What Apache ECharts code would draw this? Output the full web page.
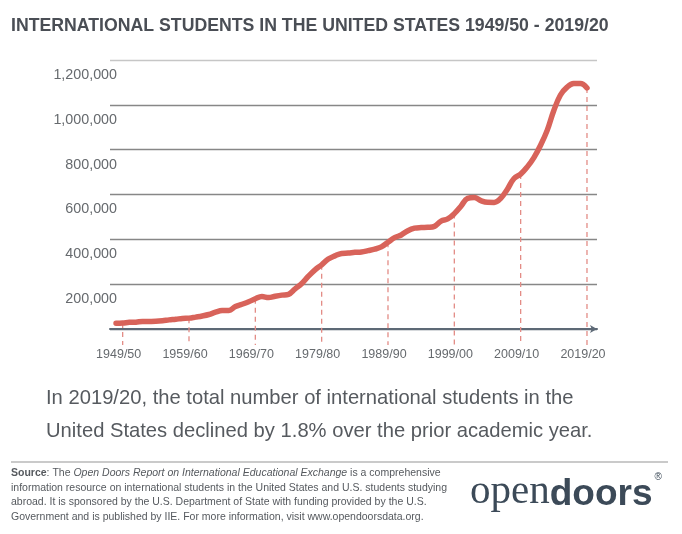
<!DOCTYPE html>
<html>
<head>
<meta charset="utf-8">
<script src="https://cdn.jsdelivr.net/npm/echarts@6/dist/echarts.min.js"></script>
<style>
html,body{margin:0;padding:0;background:#fff;}
#chart{width:682px;height:534px;}
</style>
</head>
<body>
<div id="chart"></div>
<script>
// Academic years are keyed by their starting year (1948 = 1948/49)
const years = [1948,1949,1950,1951,1952,1953,1954,1955,1956,1957,1958,1959,
  1960,1961,1962,1963,1964,1965,1966,1967,1968,1969,
  1970,1971,1972,1973,1974,1975,1976,1977,1978,1979,
  1980,1981,1982,1983,1984,1985,1986,1987,1988,1989,
  1990,1991,1992,1993,1994,1995,1996,1997,1998,1999,
  2000,2001,2002,2003,2004,2005,2006,2007,2008,2009,
  2010,2011,2012,2013,2014,2015,2016,2017,2018,2019];
const students = [25464,26433,29813,30462,33675,33833,34232,36494,40666,43391,47245,48486,
  53107,58086,64705,74814,82045,82709,100262,110315,121362,134959,
  144708,140126,146097,151066,154580,179344,203068,235509,263938,286343,
  311882,326299,336985,338894,342113,343777,349609,356187,366354,386851,
  407529,419585,438618,449749,452635,453787,457984,481280,490933,514723,
  547867,582996,586323,572509,565039,564766,582984,623805,671616,690923,
  723277,764495,819644,886052,974926,1043839,1078822,1094792,1095299,1075496];
const decadeYears = [1949,1959,1969,1979,1989,1999,2009,2019];
const yTicks = [0,200000,400000,600000,800000,1000000,1200000];

const lineData = years.map((y,i)=>[y, students[i]]);
const decadeData = decadeYears.map(y=>[y, students[years.indexOf(y)]]);

function yearLabel(v){
  const a = Math.round(v);
  return a + '/' + String((a+1)%100).padStart(2,'0');
}
function commas(v){
  return String(v).replace(/\B(?=(\d{3})+(?!\d))/g, ',');
}

const chart = echarts.init(document.getElementById('chart'), null, {renderer:'canvas'});
const option = {
  backgroundColor:'#ffffff',
  animation:false,
  grid:{left:110, right:85, top:60, bottom:205, containLabel:false},
  xAxis:{
    type:'value',
    min:1947.09, max:2020.51,
    splitLine:{show:false},
    axisTick:{show:false},
    axisLine:{show:true, lineStyle:{color:'#5d6976', width:2}, symbol:['none','arrow'], symbolSize:[6,7]},
    axisLabel:{
      customValues:decadeYears,
      formatter:yearLabel,
      margin:19,
      color:'#666a6e',
      fontFamily:'Liberation Sans, Arial, sans-serif',
      fontSize:12.5,
      padding:[0,8,0,0]
    }
  },
  yAxis:{
    type:'value',
    min:yTicks[0], max:yTicks[yTicks.length-1], interval:200000,
    axisLine:{show:false},
    axisTick:{show:false},
    splitLine:{show:true, lineStyle:{color:['#5d6976','#878787','#878787','#878787','#878787','#878787','#c6c6c6'], width:1.3}},
    axisLabel:{
      formatter:v=> v===0 ? '' : commas(v),
      margin:-7,
      verticalAlign:'top',
      padding:[8,0,0,0],
      color:'#666a6e',
      fontFamily:'Liberation Sans, Arial, sans-serif',
      fontSize:14.3
    }
  },
  series:[
    {
      type:'custom',
      clip:false,
      z:1,
      data:decadeData,
      renderItem:function(params, api){
        const top = api.coord([api.value(0), api.value(1)]);
        const base = api.coord([api.value(0), 0]);
        return {
          type:'line',
          shape:{x1:top[0], y1:top[1], x2:base[0], y2:base[1]+16},
          style:{stroke:'#e38c86', lineWidth:1.3, lineDash:[5,4]}
        };
      }
    },
    {
      type:'line',
      z:3,
      data:lineData,
      smooth:0.4,
      showSymbol:false,
      symbol:'none',
      lineStyle:{color:'#d8635a', width:5.5, cap:'round', join:'round'}
    }
  ],
  graphic:[
    {type:'text', left:11, top:17, style:{
      text:'INTERNATIONAL STUDENTS IN THE UNITED STATES 1949/50 - 2019/20',
      fill:'#4a4e55', font:'bold 17.7px "Liberation Sans", Arial, sans-serif'}},
    {type:'text', left:46, top:382, style:{
      text:'In 2019/20, the total number of international students in the\nUnited States declined by 1.8% over the prior academic year.',
      fill:'#565a5f', font:'20.2px "Liberation Sans", Arial, sans-serif', lineHeight:33}},
    {type:'line', shape:{x1:11, y1:462, x2:668, y2:462}, style:{stroke:'#b9b9b9', lineWidth:1.5}},
    {type:'text', left:11, top:466, style:{
      text:'{b|Source}: The {i|Open Doors Report on International Educational Exchange} is a comprehensive\ninformation resource on international students in the United States and U.S. students studying\nabroad. It is sponsored by the U.S. Department of State with funding provided by the U.S.\nGovernment and is published by IIE. For more information, visit www.opendoorsdata.org.',
      fill:'#55595e', fontFamily:'Liberation Sans, Arial, sans-serif', fontSize:10.5, lineHeight:14.5,
      rich:{
        b:{fontWeight:'bold', fontFamily:'Liberation Sans, Arial, sans-serif', fontSize:10.5, fill:'#55595e', lineHeight:14.5},
        i:{fontStyle:'italic', fontFamily:'Liberation Sans, Arial, sans-serif', fontSize:10.5, fill:'#55595e', lineHeight:14.5}
      }}},
    {type:'text', left:470, top:472, style:{
      text:'{o|open}{d|doors}{r|®}',
      rich:{
        o:{fontFamily:'Liberation Serif, serif', fontSize:41, fill:'#3c4a58', verticalAlign:'bottom'},
        d:{fontFamily:'Liberation Sans, Arial, sans-serif', fontWeight:'bold', fontSize:37, fill:'#3c4a58', verticalAlign:'bottom'},
        r:{fontFamily:'Liberation Sans, Arial, sans-serif', fontSize:10, fill:'#3c4a58', verticalAlign:'top', padding:[0,0,26,2]}
      }}}
  ]
};
chart.setOption(option);
</script>
</body>
</html>
